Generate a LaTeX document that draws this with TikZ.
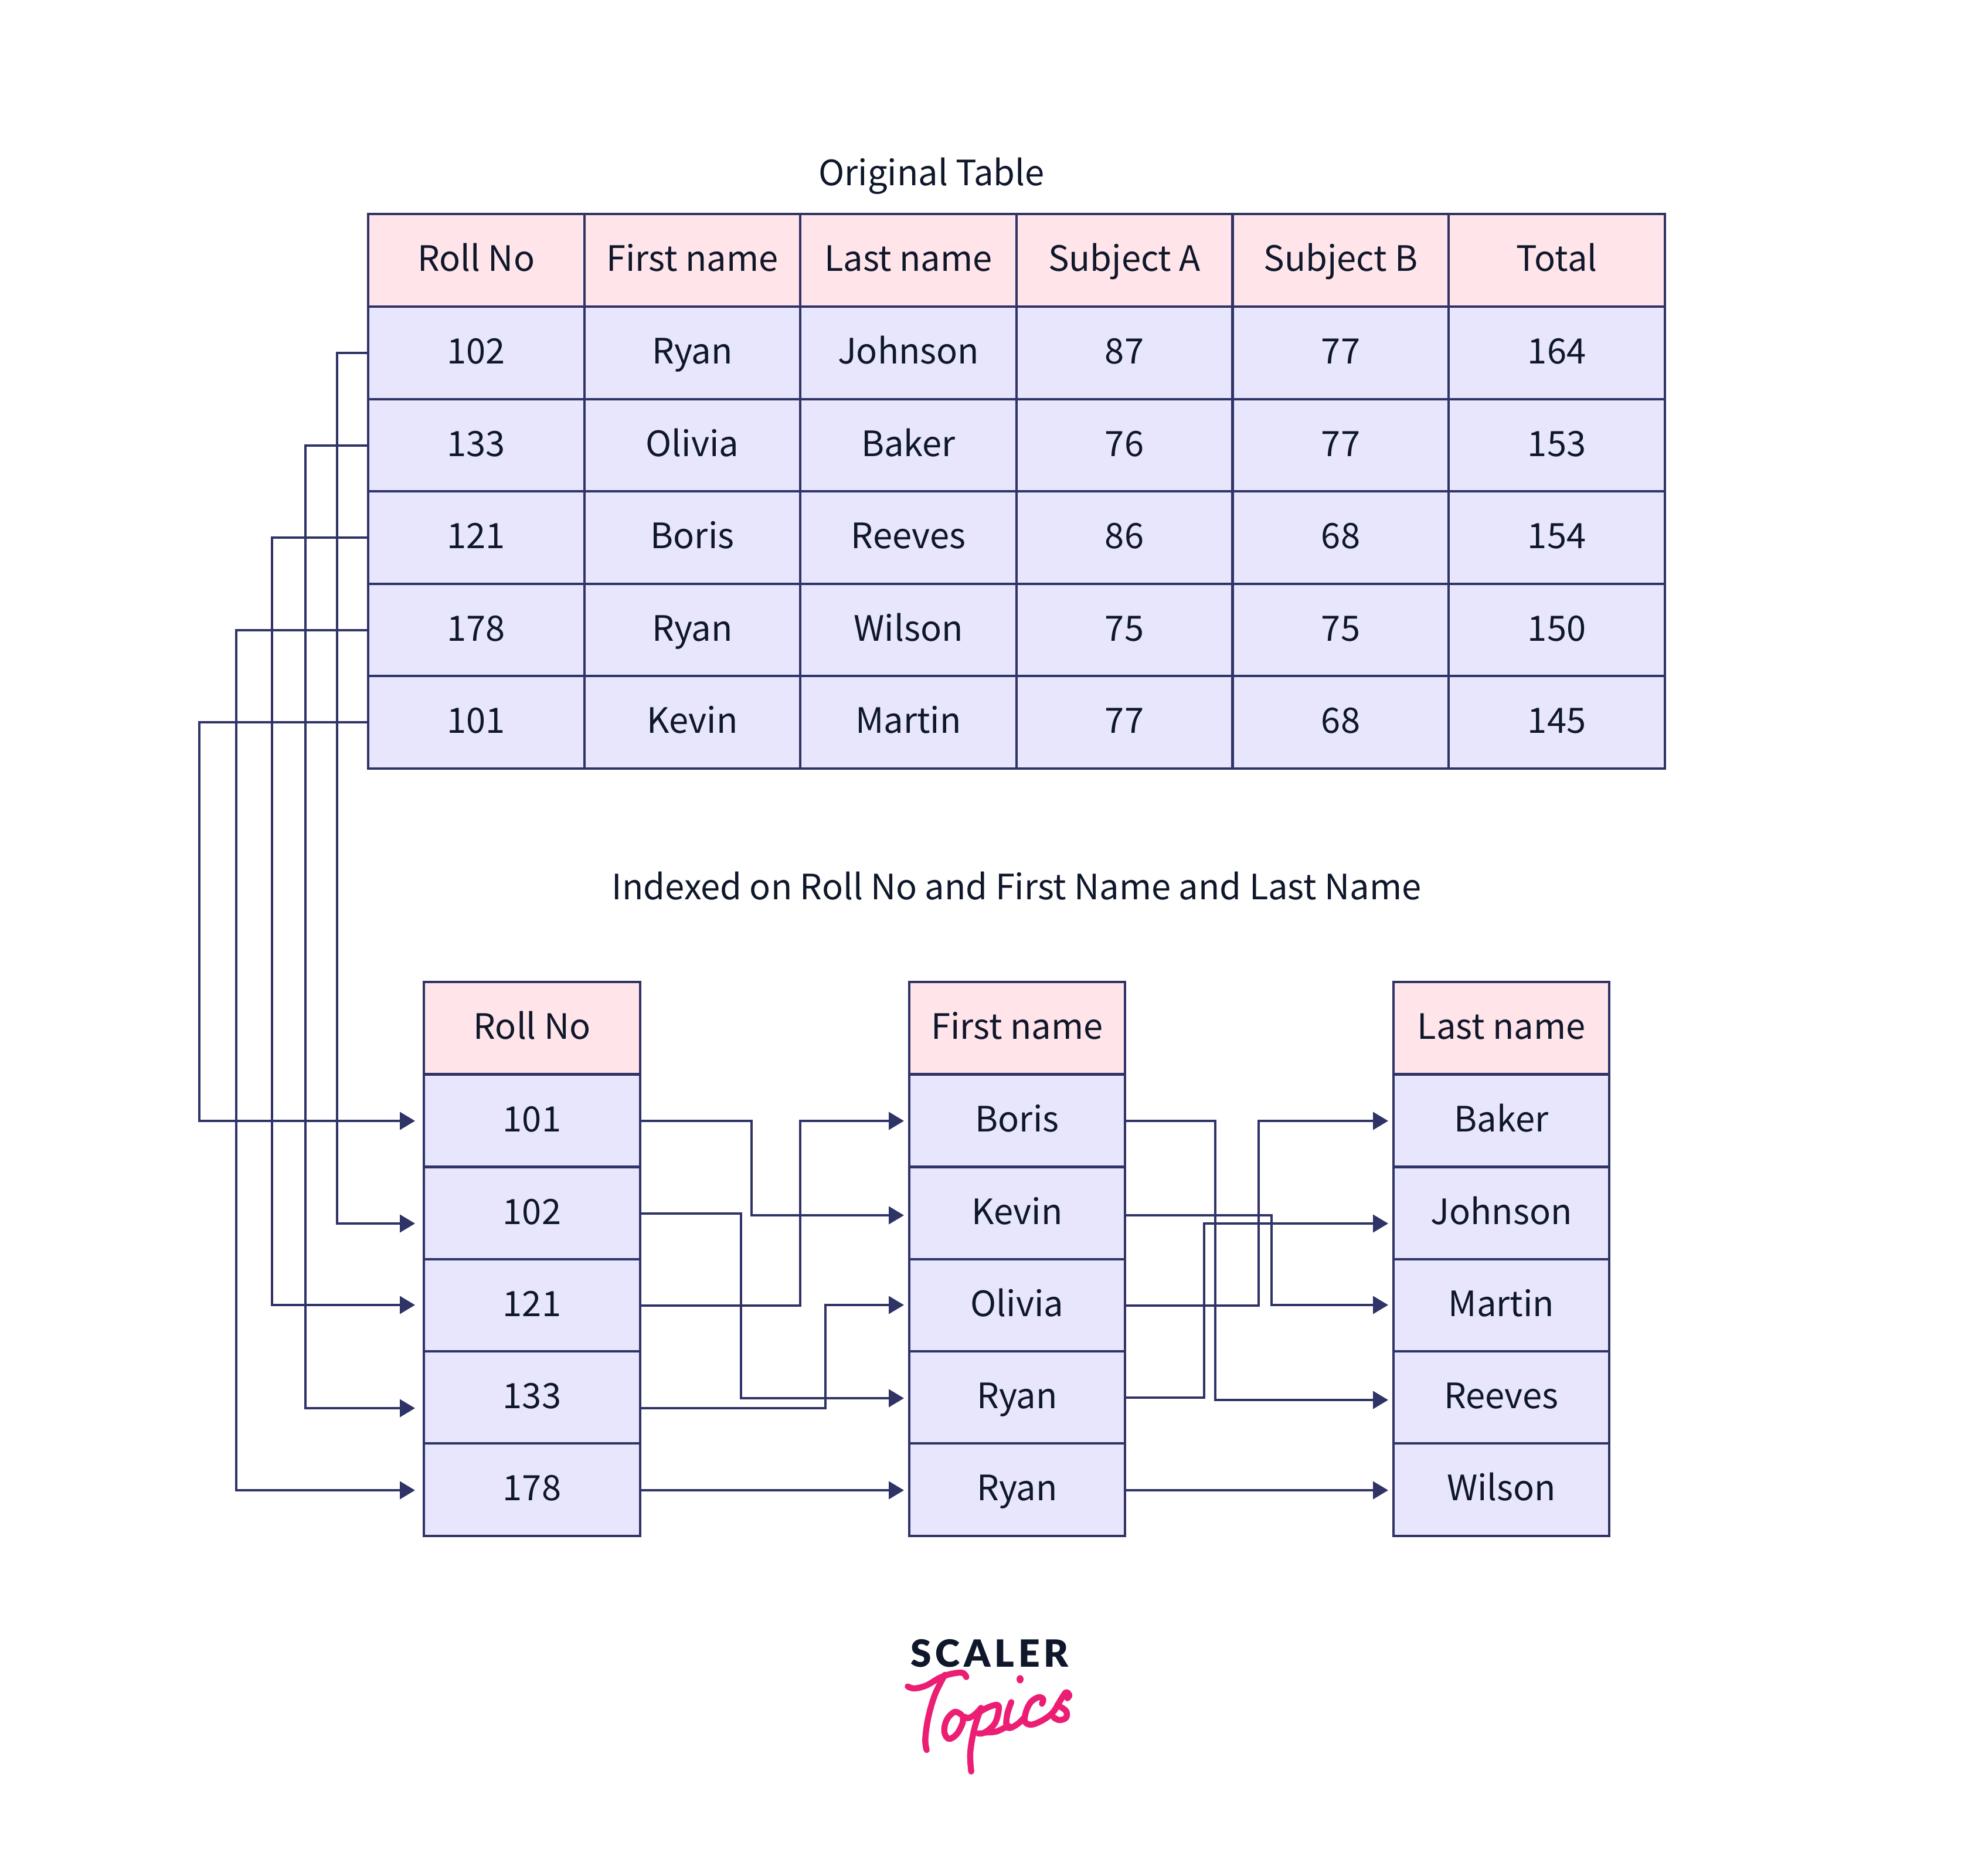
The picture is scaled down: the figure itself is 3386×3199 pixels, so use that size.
\documentclass[tikz,border=0pt]{standalone}
\usepackage{fontspec}
\setmainfont{Noto Sans CJK SC}
\newfontfamily\logofont[LetterSpace=10.7]{Lato Black}
\usetikzlibrary{arrows.meta}
\definecolor{edgeblue}{HTML}{2F3366}
\definecolor{inkdark}{HTML}{0F172A}
\definecolor{headpink}{HTML}{FFE4E9}
\definecolor{bodylav}{HTML}{E7E6FD}
\definecolor{logopink}{HTML}{EC1E73}
\tikzset{
  cellbase/.style={draw=edgeblue,line width=2pt,minimum width=184.3pt,minimum height=78.8pt,inner sep=0pt,outer sep=0pt,text=inkdark,font=\fontsize{29.8}{33}\selectfont,text height=18.5pt,text depth=0pt,align=center},
  headcell/.style={cellbase,fill=headpink},
  bodycell/.style={cellbase,fill=bodylav},
  titletext/.style={inner sep=0pt,text=inkdark,font=\fontsize{29.8}{33}\selectfont},
  link/.style={draw=edgeblue,line width=2pt,-{Triangle[length=13pt,width=15pt]}},
  pen/.style={draw=logopink,line width=5.2pt,line cap=round,line join=round}
}
\begin{document}
\begin{tikzpicture}[x=0.5pt,y=-0.5pt]
\useasboundingbox (0,0) rectangle (3386,3199);
\fill[white] (0,0) rectangle (3386,3199);

\node[titletext,anchor=base] (t1) at (1589,317) {Original Table};
\node[titletext,anchor=base] (t2) at (1734,1534) {Indexed on Roll No and First Name and Last Name};

% original table
\foreach \nm/\cx/\tx in {h1/812.3/Roll No,h2/1181/First name,h3/1549.5/Last name,h4/1918/Subject A,h5/2287/Subject B,h6/2655.5/Total}
  \node[headcell] (\nm) at (\cx,444) {\tx};
\foreach \ry/\rid/\a/\b/\c/\d/\e/\f in {
  602/102/102/Ryan/Johnson/87/77/164,
  759.5/133/133/Olivia/Baker/76/77/153,
  917/121/121/Boris/Reeves/86/68/154,
  1074.5/178/178/Ryan/Wilson/75/75/150,
  1232/101/101/Kevin/Martin/77/68/145}{
  \node[bodycell] (o\rid) at (812.3,\ry) {\a};
  \node[bodycell] (oa\rid) at (1181,\ry) {\b};
  \node[bodycell] (ob\rid) at (1549.5,\ry) {\c};
  \node[bodycell] (oc\rid) at (1918,\ry) {\d};
  \node[bodycell] (od\rid) at (2287,\ry) {\e};
  \node[bodycell] (oe\rid) at (2655.5,\ry) {\f};
}

% index columns
\node[headcell] (rh) at (907.5,1753.5) {Roll No};
\node[headcell] (fh) at (1735,1753.5) {First name};
\node[headcell] (lh) at (2561,1753.5) {Last name};
\foreach \ry/\p/\q/\r/\pn/\qn/\rn in {
  1911.5/101/Boris/Baker/r101/fboris/lbaker,
  2069.5/102/Kevin/Johnson/r102/fkevin/ljohnson,
  2226.5/121/Olivia/Martin/r121/folivia/lmartin,
  2383.5/133/Ryan/Reeves/r133/fryana/lreeves,
  2541/178/Ryan/Wilson/r178/fryanb/lwilson}{
  \node[bodycell] (\pn) at (907.5,\ry) {\p};
  \node[bodycell] (\qn) at (1735,\ry) {\q};
  \node[bodycell] (\rn) at (2561,\ry) {\r};
}

% arrow entry points
\coordinate (i101) at (708,1912);
\coordinate (i102) at (708,2087);
\coordinate (i121) at (708,2226);
\coordinate (i133) at (708,2402);
\coordinate (i178) at (708,2542);
\coordinate (iboris) at (1542,1912);
\coordinate (ikevin) at (1542,2073);
\coordinate (iolivia) at (1542,2226);
\coordinate (iryana) at (1542,2385);
\coordinate (iryanb) at (1542,2542);
\coordinate (ibaker) at (2368,1912);
\coordinate (ijohnson) at (2368,2087);
\coordinate (imartin) at (2368,2226);
\coordinate (ireeves) at (2368,2388);
\coordinate (iwilson) at (2368,2542);
% free exits that sit off the row centre
\coordinate (x133) at (1092,2402);
\coordinate (xkevin) at (1920,2073);
\coordinate (x178) at (1092,2542);
\coordinate (xryanb) at (1920,2542);

% table to roll no index
\draw[link] (o102.west) -| (575,2087) -- (i102);
\draw[link] (o133.west) -| (521,2402) -- (i133);
\draw[link] (o121.west) -| (464,2226) -- (i121);
\draw[link] (o178.west) -| (403,2542) -- (i178);
\draw[link] (o101.west) -| (340,1912) -- (i101);

% roll no to first name
\draw[link] (r101.east) -| (1282,2073) -- (ikevin);
\draw[link] (r102.east) -| (1264,2385) -- (iryana);
\draw[link] (r121.east) -| (1365,1912) -- (iboris);
\draw[link] (x133) -| (1408,2226) -- (iolivia);
\draw[link] (x178) -- (iryanb);

% first name to last name
\draw[link] (fboris.east) -| (2073,2388) -- (ireeves);
\draw[link] (xkevin) -| (2169,2226) -- (imartin);
\draw[link] (folivia.east) -| (2147,1912) -- (ibaker);
\draw[link] (fryana.east) -| (2054,2087) -- (ijohnson);
\draw[link] (xryanb) -- (iwilson);

% logo
\node[anchor=base,inner sep=0pt,text=inkdark,font=\logofont\fontsize{32}{34}\selectfont] (logo) at (1688,2843) {SCALER};
\begin{scope}[shift={(1540,2840)},x=0.1667pt,y=-0.1667pt]
  \draw[pen] plot[smooth,tension=.6] coordinates {(25,110) (60,120) (120,105) (190,65) (250,45) (305,40) (325,62)};
  \draw[pen] plot[smooth,tension=.6] coordinates {(215,50) (165,150) (130,270) (115,380) (122,435)};
  \draw[pen] plot[smooth,tension=.6] coordinates {(300,255) (265,240) (225,280) (212,340) (235,378) (275,355) (305,300) (310,265) (335,272) (370,252) (400,220)};
  \draw[pen] plot[smooth,tension=.6] coordinates {(400,220) (365,330) (345,450) (350,545)};
  \draw[pen] plot[smooth,tension=.6] coordinates {(385,245) (440,215) (485,205) (490,235) (470,300) (420,345) (385,350)};
  \draw[pen] plot[smooth,tension=.6] coordinates {(420,345) (480,340) (540,310)};
\end{scope}
\begin{scope}[shift={(1700,2840)},x=0.1667pt,y=-0.1667pt]
  \draw[pen] plot[smooth,tension=.6] coordinates {(75,190) (55,250) (50,310) (70,322) (110,300) (140,270)};
  \draw[pen] plot[smooth,tension=.6] coordinates {(232,198) (238,175) (215,165) (175,190) (150,240) (145,290) (180,305) (240,280) (290,240) (330,175) (355,140) (372,155) (362,170)};
  \draw[pen] plot[smooth,tension=.6] coordinates {(310,205) (355,235) (355,270) (320,282) (292,268)};
  \fill[logopink] (120,73) circle [x radius=18,y radius=21];
\end{scope}
\end{tikzpicture}
\end{document}
